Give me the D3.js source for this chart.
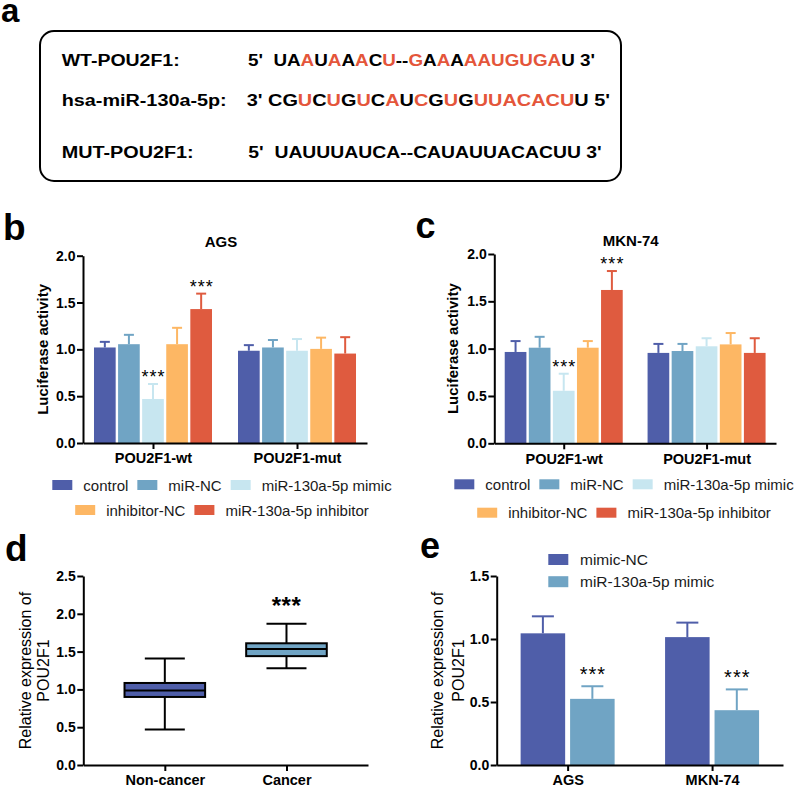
<!DOCTYPE html>
<html>
<head>
<meta charset="utf-8">
<script src="https://cdn.jsdelivr.net/npm/d3@7"></script>
<style>
body { margin: 0; background: #fff; }
svg { font-family: "Liberation Sans", Arial, Helvetica, sans-serif; }
</style>
</head>
<body>
<svg id="fig" width="794" height="787"></svg>
<script>
// ---- data ----
const seqLabels = ["WT-POU2F1:", "hsa-miR-130a-5p:", "MUT-POU2F1:"];
const seqHead = ["5'  ", "3' ", "5'  "];
const seqBody = ["UAAUAAACU--GAAAAAUGUGAU", "CGUCUGUCAUCGUGUUACACUU", "UAUUUAUCA--CAUAUUACACUU"];
const seqTail = [" 3'", " 5'", " 3'"];
// r = base drawn in red
const seqMask = ["..r.r.r.r..r.r.rrrrrrr.", "..r.r.r.r.r.r.rrrrrrr.", "......................."];

const lucGroups = ["POU2F1-wt", "POU2F1-mut"];
const treatments = ["control", "miR-NC", "miR-130a-5p mimic", "inhibitor-NC", "miR-130a-5p inhibitor"];
const treatColors = ["#4f5ea9", "#70a4c4", "#c7e6f0", "#fdb764", "#df5b3f"];

const agsMean = [[1.02, 1.055, 0.47, 1.055, 1.43], [0.985, 1.02, 0.985, 1.005, 0.955]];
const agsErr = [[0.06, 0.10, 0.16, 0.175, 0.165], [0.06, 0.08, 0.125, 0.12, 0.175]];
const agsSig = [["", "", "***", "", "***"], ["", "", "", "", ""]];

const mknMean = [[0.965, 1.01, 0.555, 1.01, 1.62], [0.955, 0.975, 1.025, 1.045, 0.955]];
const mknErr = [[0.115, 0.115, 0.18, 0.07, 0.2], [0.095, 0.075, 0.085, 0.12, 0.155]];
const mknSig = [["", "", "***", "", "***"], ["", "", "", "", ""]];

const tissueGroups = ["Non-cancer", "Cancer"];
const tissueColors = ["#4f5ea9", "#70a4c4"];
const boxMin = [0.47, 1.28];
const boxQ1 = [0.90, 1.44];
const boxMedian = [0.985, 1.535];
const boxQ3 = [1.085, 1.61];
const boxMax = [1.41, 1.87];
const boxSig = ["", "***"];

const cellLines = ["AGS", "MKN-74"];
const mimicSeries = ["mimic-NC", "miR-130a-5p mimic"];
const mimicColors = ["#4f5ea9", "#70a4c4"];
const mimicMean = [[1.045, 0.525], [1.015, 0.435]];
const mimicErr = [[0.135, 0.10], [0.115, 0.165]];
const mimicSig = [["", "***"], ["", "***"]];

const lucTicks = [0, 0.5, 1.0, 1.5, 2.0];
const boxTicks = [0, 0.5, 1.0, 1.5, 2.0, 2.5];
const exprTicks = [0, 0.5, 1.0, 1.5];

// ---- drawing ----
const svg = d3.select("#fig");
const fmt = d3.format(".1f");

function styleAxis(g, size) {
    g.attr("font-family", null).attr("font-size", null);
    g.select(".domain").attr("stroke", "#000").attr("stroke-width", 2);
    g.selectAll(".tick line").attr("stroke", "#000").attr("stroke-width", 2);
    g.selectAll(".tick text").attr("fill", "#000").attr("font-weight", "bold").attr("font-size", size);
}

function panelLetter(t, x, y, size) {
    svg.append("text").attr("x", x).attr("y", y)
        .attr("font-size", size).attr("font-weight", "bold").text(t);
}

// panel a: sequence box
panelLetter("a", 1, 22, 33);
svg.append("rect").attr("x", 40).attr("y", 31).attr("width", 581).attr("height", 150)
    .attr("rx", 14).attr("fill", "none").attr("stroke", "#000").attr("stroke-width", 2);

const seqRowY = [65.5, 105.5, 158];
const labelLen = [118, 165, 132];
const seqX = [248, 246.7, 248.3];
const seqLen = [347, 363.3, 353.4];

seqLabels.forEach((lab, i) => {
    svg.append("text").attr("x", 61.7).attr("y", seqRowY[i])
        .attr("font-size", 16).attr("font-weight", "bold")
        .attr("textLength", labelLen[i]).attr("lengthAdjust", "spacingAndGlyphs")
        .text(lab);

    const t = svg.append("text").attr("x", seqX[i]).attr("y", seqRowY[i])
        .attr("font-size", 16).attr("font-weight", "bold")
        .style("white-space", "pre")
        .attr("textLength", seqLen[i]).attr("lengthAdjust", "spacingAndGlyphs");
    t.append("tspan").text(seqHead[i]);
    seqBody[i].split("").forEach((ch, k) => {
        t.append("tspan").attr("fill", seqMask[i][k] === "r" ? "#e4553a" : "#000").text(ch);
    });
    t.append("tspan").text(seqTail[i]);
});

// legend rows centred on cx
function legendRows(rows, names, colors, cx, ys) {
    rows.forEach((row, r) => {
        const g = svg.append("g");
        let x = 0;
        row.forEach(k => {
            g.append("rect").attr("x", x).attr("y", ys[r] - 5).attr("width", 20).attr("height", 10)
                .attr("fill", colors[k]);
            const tx = g.append("text").attr("x", x + 31).attr("y", ys[r] + 5.5)
                .attr("font-size", 15).attr("fill", "#1a1a1a").text(names[k]);
            x += 31 + tx.node().getComputedTextLength() + 9;
        });
        const w = x - 9;
        g.attr("transform", `translate(${cx - w / 2},0)`);
    });
}

// panels b and c: grouped luciferase bars
function lucPanel(o) {
    const y = d3.scaleLinear().domain([0, 2]).range([o.y0, o.y1]);
    const x = d3.scalePoint().domain(lucGroups).range([o.x0, o.x1]).padding(0.486);
    const xi = d3.scaleBand().domain(d3.range(treatments.length)).range([-59, 59]).paddingInner(0.1);

    lucGroups.forEach((grp, gi) => {
        const g = svg.append("g").attr("transform", `translate(${x(grp)},0)`);
        treatments.forEach((tr, k) => {
            const bx = xi(k), bw = xi.bandwidth(), cx = bx + bw / 2;
            const m = o.mean[gi][k], e = o.err[gi][k];
            g.append("line").attr("x1", cx).attr("x2", cx).attr("y1", y(m)).attr("y2", y(m + e))
                .attr("stroke", treatColors[k]).attr("stroke-width", 2);
            g.append("line").attr("x1", cx - 5).attr("x2", cx + 5).attr("y1", y(m + e)).attr("y2", y(m + e))
                .attr("stroke", treatColors[k]).attr("stroke-width", 2);
            g.append("rect").attr("x", bx).attr("y", y(m)).attr("width", bw).attr("height", y(0) - y(m))
                .attr("fill", treatColors[k]);
            if (o.sig[gi][k]) {
                g.append("text").attr("x", cx + 0.5).attr("y", y(m + e) - 1)
                    .attr("text-anchor", "middle").attr("font-size", 18).attr("letter-spacing", 1)
                    .text(o.sig[gi][k]);
            }
        });
    });

    svg.append("g").attr("transform", `translate(${o.x0},0)`)
        .call(d3.axisLeft(y).tickValues(lucTicks).tickFormat(fmt).tickSize(6).tickPadding(1.5).tickSizeOuter(0))
        .call(g => styleAxis(g, 14));
    svg.append("g").attr("transform", `translate(0,${o.y0})`)
        .call(d3.axisBottom(x).tickSize(6).tickPadding(4).tickSizeOuter(0))
        .call(g => styleAxis(g, 14.5));

    svg.append("text").attr("transform", `translate(${o.labelX},${(o.y0 + o.y1) / 2 + 0}) rotate(-90)`)
        .attr("text-anchor", "middle").attr("dy", "0.35em")
        .attr("font-size", 15).attr("font-weight", "bold").text("Luciferase activity");
    svg.append("text").attr("x", o.titleX).attr("y", o.titleY)
        .attr("text-anchor", "middle").attr("font-size", 15).attr("font-weight", "bold").text(o.title);

    legendRows([[0, 1, 2], [3, 4]], treatments, treatColors, o.legendX, o.legendY);
}

panelLetter("b", 3, 240, 37);
lucPanel({ x0: 83, x1: 367, y0: 443, y1: 255.7, mean: agsMean, err: agsErr, sig: agsSig,
    title: "AGS", titleX: 221, titleY: 247, labelX: 43, legendX: 222, legendY: [485, 510] });

panelLetter("c", 415.5, 238, 36);
lucPanel({ x0: 494.3, x1: 776, y0: 443.3, y1: 254, mean: mknMean, err: mknErr, sig: mknSig,
    title: "MKN-74", titleX: 630.7, titleY: 245.5, labelX: 453, legendX: 624, legendY: [484.3, 512.7] });

// two-line y label
function exprLabel(x1, x2, cy) {
    svg.append("text").attr("transform", `translate(${x1},${cy}) rotate(-90)`)
        .attr("text-anchor", "middle").attr("dy", "0.35em").attr("font-size", 16).text("Relative expression of");
    svg.append("text").attr("transform", `translate(${x2},${cy}) rotate(-90)`)
        .attr("text-anchor", "middle").attr("dy", "0.35em").attr("font-size", 16).text("POU2F1");
}

// panel d: box plot
panelLetter("d", 5, 561, 37);
{
    const y = d3.scaleLinear().domain([0, 2.5]).range([765, 576]);
    const x = d3.scalePoint().domain(tissueGroups).range([83.3, 368]).padding(0.67);
    tissueGroups.forEach((grp, i) => {
        const cx = x(grp), hw = 40.3, cw = 20;
        const g = svg.append("g");
        [[boxMax[i], boxQ3[i]], [boxQ1[i], boxMin[i]]].forEach(([a, b]) => {
            g.append("line").attr("x1", cx).attr("x2", cx).attr("y1", y(a)).attr("y2", y(b))
                .attr("stroke", "#000").attr("stroke-width", 2);
        });
        [boxMax[i], boxMin[i]].forEach(v => {
            g.append("line").attr("x1", cx - cw).attr("x2", cx + cw).attr("y1", y(v)).attr("y2", y(v))
                .attr("stroke", "#000").attr("stroke-width", 2);
        });
        g.append("rect").attr("x", cx - hw).attr("y", y(boxQ3[i])).attr("width", 2 * hw)
            .attr("height", y(boxQ1[i]) - y(boxQ3[i]))
            .attr("fill", tissueColors[i]).attr("stroke", "#000").attr("stroke-width", 2);
        g.append("line").attr("x1", cx - hw).attr("x2", cx + hw).attr("y1", y(boxMedian[i])).attr("y2", y(boxMedian[i]))
            .attr("stroke", "#000").attr("stroke-width", 2);
        if (boxSig[i]) {
            g.append("text").attr("x", cx).attr("y", y(boxMax[i]) - 10)
                .attr("text-anchor", "middle").attr("font-size", 24).attr("font-weight", "bold")
                .attr("letter-spacing", 0.5).text(boxSig[i]);
        }
    });
    svg.append("g").attr("transform", "translate(83.3,0)")
        .call(d3.axisLeft(y).tickValues(boxTicks).tickFormat(fmt).tickSize(6).tickPadding(1.5).tickSizeOuter(0))
        .call(g => styleAxis(g, 14));
    svg.append("g").attr("transform", "translate(0,765)")
        .call(d3.axisBottom(x).tickSize(6).tickPadding(3.5).tickSizeOuter(0))
        .call(g => styleAxis(g, 14.5));
    exprLabel(25, 43.3, 670.5);
}

// panel e: mimic bars
panelLetter("e", 420, 558, 36);
{
    const y = d3.scaleLinear().domain([0, 1.5]).range([765, 576]);
    const x = d3.scalePoint().domain(cellLines).range([496.7, 783]).padding(0.491);
    const xi = d3.scaleBand().domain(d3.range(mimicSeries.length)).range([-47, 47]).paddingInner(0.1);
    cellLines.forEach((cl, ci) => {
        const g = svg.append("g").attr("transform", `translate(${x(cl)},0)`);
        mimicSeries.forEach((s, k) => {
            const bx = xi(k), bw = xi.bandwidth(), cx = bx + bw / 2;
            const m = mimicMean[ci][k], e = mimicErr[ci][k];
            g.append("line").attr("x1", cx).attr("x2", cx).attr("y1", y(m)).attr("y2", y(m + e))
                .attr("stroke", mimicColors[k]).attr("stroke-width", 2);
            g.append("line").attr("x1", cx - 11).attr("x2", cx + 11).attr("y1", y(m + e)).attr("y2", y(m + e))
                .attr("stroke", mimicColors[k]).attr("stroke-width", 2);
            g.append("rect").attr("x", bx).attr("y", y(m)).attr("width", bw).attr("height", y(0) - y(m))
                .attr("fill", mimicColors[k]);
            if (mimicSig[ci][k]) {
                g.append("text").attr("x", cx + 0.5).attr("y", y(m + e) - 5.5)
                    .attr("text-anchor", "middle").attr("font-size", 20).attr("letter-spacing", 1)
                    .text(mimicSig[ci][k]);
            }
        });
    });
    svg.append("g").attr("transform", "translate(496.7,0)")
        .call(d3.axisLeft(y).tickValues(exprTicks).tickFormat(fmt).tickSize(6).tickPadding(1.5).tickSizeOuter(0))
        .call(g => styleAxis(g, 14));
    svg.append("g").attr("transform", "translate(0,765)")
        .call(d3.axisBottom(x).tickSize(6).tickPadding(3.5).tickSizeOuter(0))
        .call(g => styleAxis(g, 14.5));
    exprLabel(437.5, 458, 670.5);

    mimicSeries.forEach((s, k) => {
        const yy = [559.5, 581.7][k];
        svg.append("rect").attr("x", 548.3).attr("y", yy - 5.5).attr("width", 20).attr("height", 11)
            .attr("fill", mimicColors[k]);
        svg.append("text").attr("x", 580).attr("y", yy + 5.5).attr("font-size", 15.5)
            .attr("fill", "#1a1a1a").text(s);
    });
}
</script>
</body>
</html>
